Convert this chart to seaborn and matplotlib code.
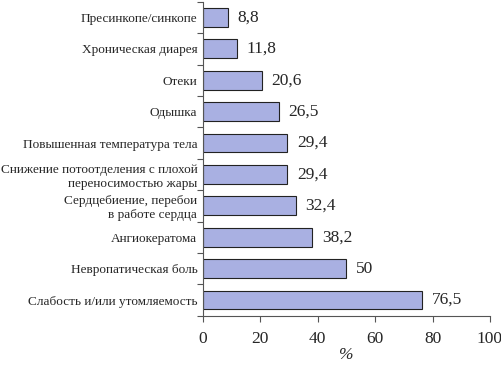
import matplotlib
matplotlib.use("Agg")
import matplotlib.pyplot as plt
import seaborn as sns
import pandas as pd
import numpy as np

categories = [
    "Пресинкопе/синкопе",
    "Хроническая диарея",
    "Отеки",
    "Одышка",
    "Повышенная температура тела",
    "Снижение потоотделения с плохой\nпереносимостью жары",
    "Сердцебиение, перебои\nв работе сердца",
    "Ангиокератома",
    "Невропатическая боль",
    "Слабость и/или утомляемость",
]
values = [8.8, 11.8, 20.6, 26.5, 29.4, 29.4, 32.4, 38.2, 50, 76.5]
value_labels = ["8,8", "11,8", "20,6", "26,5", "29,4", "29,4", "32,4", "38,2", "50", "76,5"]
xticks = [0, 20, 40, 60, 80, 100]

sns.set_theme(style="white")
plt.rcParams['font.family'] = ['Liberation Serif', 'DejaVu Serif']

df = pd.DataFrame({"cat": categories, "val": values})

fig = plt.figure(figsize=(5.02, 3.65), dpi=100)
ax = fig.add_axes([0.404, 0.135, 0.572, 0.86])
sns.barplot(data=df, y="cat", x="val", orient="h", ax=ax, color="#a9b0e2",
            edgecolor="#222222", linewidth=0.8, width=0.6, saturation=1)

ax.set_xlim(0, 100)
ax.set_ylim(len(categories) - 0.5, -0.5)
ax.set_xticks(xticks)
ax.set_xticklabels([str(t) for t in xticks], fontsize=12.5)
ax.tick_params(axis='y', which='major', length=0, labelsize=9.5, pad=4)
ax.set_yticks(np.arange(-0.5, len(categories)), minor=True)
ax.tick_params(axis='y', which='minor', length=4, width=0.8, color="#555555", direction='out')
ax.tick_params(axis='x', which='major', length=4, width=0.8, color="#555555", direction='out', pad=7)
ax.yaxis.set_ticks_position('left')
ax.xaxis.set_ticks_position('bottom')

for s in ['top', 'right']:
    ax.spines[s].set_visible(False)
for s in ['left', 'bottom']:
    ax.spines[s].set_color("#555555")
    ax.spines[s].set_linewidth(0.8)

ax.set_ylabel("")
ax.set_xlabel("%", fontsize=12.5, style='italic', labelpad=0)

for i, (v, lab) in enumerate(zip(values, value_labels)):
    ax.annotate(lab, xy=(v, i), xytext=(7, 0), textcoords='offset points',
                va='center', ha='left', fontsize=12.5)

fig.savefig("out.png", dpi=100)
